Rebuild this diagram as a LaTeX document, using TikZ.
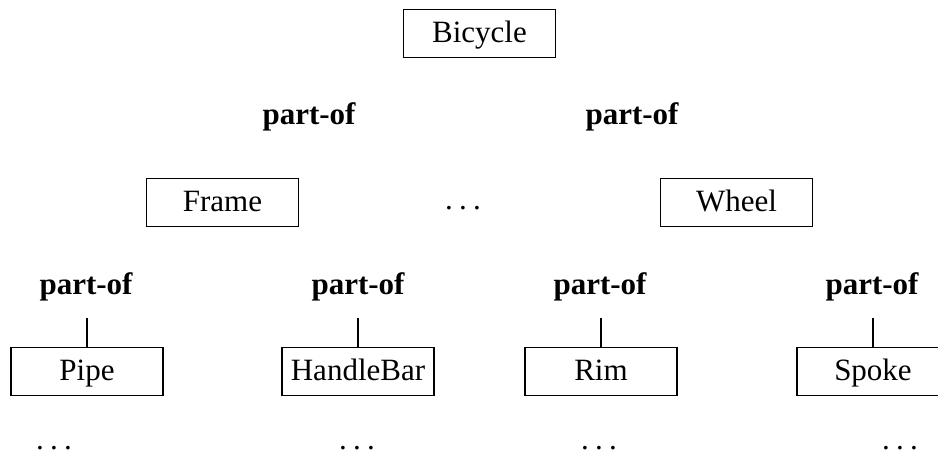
\documentclass[tikz,border=0pt]{standalone}
\usepackage{fontspec}
\setmainfont{Liberation Serif}
\newcommand{\mydots}{.\kern3.1pt.\kern3.1pt.}
\begin{document}
\begin{tikzpicture}[x=0.5pt,y=-0.5pt,
  box/.style={draw, line width=0.6pt, minimum width=76pt, minimum height=24pt, inner sep=4pt,
    text height=11pt, text depth=2.2pt, font=\fontsize{15.5}{18}\selectfont},
  rel/.style={inner sep=0pt, anchor=base, font=\fontsize{15.5}{18}\selectfont\bfseries},
  more/.style={inner sep=0pt, anchor=base, font=\fontsize{15.5}{18}\selectfont},
  link/.style={line width=0.6pt, shorten >=8pt}]
\useasboundingbox (0,0) rectangle (938,454);
\node[box] (bicycle) at (479.5,33.5) {Bicycle};
\node[rel] (r1) at (309,125) {part-of};
\node[rel] (r2) at (632,125) {part-of};
\node[box] (frame) at (222.5,202.5) {Frame};
\node[more] (d0) at (463,210) {\mydots};
\node[box] (wheel) at (736.5,202.5) {Wheel};
\node[rel] (r3) at (86,295) {part-of};
\node[rel] (r4) at (358,295) {part-of};
\node[rel] (r5) at (600,295) {part-of};
\node[rel] (r6) at (872,295) {part-of};
\node[box] (pipe) at (87,371.5) {Pipe};
\node[box] (handle) at (358,371.5) {HandleBar};
\node[box] (rim) at (601,371.5) {Rim};
\node[box] (spoke) at (873,371.5) {Spoke};
\node[more] (d1) at (54,450) {\mydots};
\node[more] (d2) at (357,450) {\mydots};
\node[more] (d3) at (599,450) {\mydots};
\node[more] (d4) at (900,450) {\mydots};
\draw[link] (pipe.north) -- (pipe.north |- r3.south);
\draw[link] (handle.north) -- (handle.north |- r4.south);
\draw[link] (rim.north) -- (rim.north |- r5.south);
\draw[link] (spoke.north) -- (spoke.north |- r6.south);
\end{tikzpicture}
\end{document}
